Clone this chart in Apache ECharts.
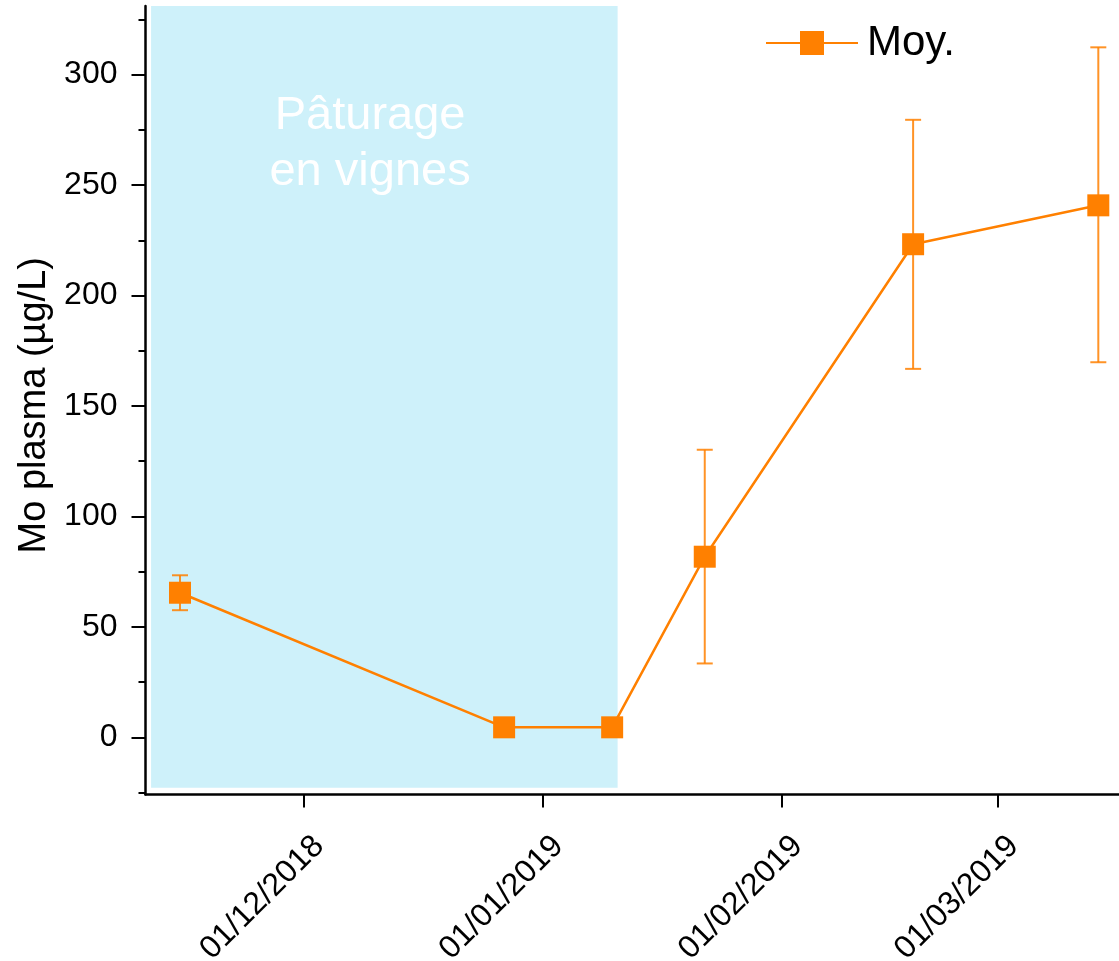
<!DOCTYPE html>
<html><head><meta charset="utf-8">
<script src="https://cdn.jsdelivr.net/npm/echarts@6/dist/echarts.min.js"></script>
<style>html,body{margin:0;padding:0;background:#fff}#c{width:1119px;height:961px}</style>
</head><body><div id="c"></div>
<script>
// ---- data ----
const dates = ['2018-11-15', '2018-12-27', '2019-01-10', '2019-01-22', '2019-02-18', '2019-03-14'];
const means = [65.5, 4.6, 4.6, 81.8, 223.2, 240.8];
const errHigh = [73.4, null, null, 130.2, 279.5, 312.3];
const errLow = [57.6, null, null, 33.5, 166.8, 169.8];
const monthTicks = ['2018-12-01', '2019-01-01', '2019-02-01', '2019-03-01'];
const yMajorTicks = [0, 50, 100, 150, 200, 250, 300];
const yMinorTicks = [-25, 25, 75, 125, 175, 225, 275, 325];
const xRange = ['2018-11-10T12:40', '2019-03-16T16:20'];
const yRange = [-25.8, 331];
const shadeX = ['2018-11-11T06:00', '2019-01-10T17:00'];
const shadeY = [-22.8, 331];
const shadeLabel = 'Pâturage\nen vignes';
const seriesName = 'Moy.';
const yName = 'Mo plasma (µg/L)';

// ---- helpers ----
const t = s => Date.parse((s.length === 10 ? s + 'T00:00' : s) + ':00Z');
const pad = n => (n < 10 ? '0' : '') + n;
const fmtDate = v => { const d = new Date(v); return pad(d.getUTCDate()) + '/' + pad(d.getUTCMonth() + 1) + '/' + d.getUTCFullYear(); };
const FONT = 'Liberation Sans, Arial, sans-serif';
const ORANGE = '#FF8000';

const chart = echarts.init(document.getElementById('c'), null, { renderer: 'canvas' });
const lineData = dates.map((d, i) => [t(d), means[i]]);
const errData = dates.map((d, i) => errHigh[i] == null ? null : [t(d), errLow[i], errHigh[i]]).filter(Boolean);

const yCommon = {
  type: 'value', min: yRange[0], max: yRange[1], position: 'left',
  splitLine: { show: false }
};

chart.setOption({
  animation: false,
  backgroundColor: '#fff',
  grid: { left: 145.5, right: 0, top: 6, bottom: 166.5, containLabel: false, outerBoundsMode: 'none' },
  legend: {
    data: [seriesName], left: 765, top: 22, padding: 0, itemWidth: 92, itemHeight: 30,
    textStyle: { fontFamily: FONT, fontSize: 42, color: '#000', padding: [0, 0, 0, 4] }
  },
  xAxis: {
    type: 'value', min: t(xRange[0]), max: t(xRange[1]),
    splitLine: { show: false },
    axisLine: { onZero: false, lineStyle: { color: '#000', width: 2.5 } },
    axisTick: { show: true, length: 13, lineStyle: { color: '#000', width: 2 }, customValues: monthTicks.map(t) },
    axisLabel: {
      customValues: monthTicks.map(t), formatter: fmtDate, rotate: 45,
      fontFamily: FONT, fontSize: 32, color: '#000', margin: 31, verticalAlign: 'top', padding: [6, 0, 0, 0]
    }
  },
  yAxis: [
    Object.assign({}, yCommon, {
      name: yName, nameLocation: 'middle', nameGap: 85, nameRotate: 90,
      nameTextStyle: { fontFamily: FONT, fontSize: 38, color: '#000', padding: [0, 10, 0, 0] },
      axisLine: { show: true, onZero: false, lineStyle: { color: '#000', width: 2.5 } },
      axisTick: { show: true, length: 14, lineStyle: { color: '#000', width: 2 }, customValues: yMajorTicks },
      axisLabel: { customValues: yMajorTicks, fontFamily: FONT, fontSize: 32, color: '#000', margin: 28 }
    }),
    Object.assign({}, yCommon, {
      axisLine: { show: false, onZero: false },
      axisTick: { show: true, length: 7, lineStyle: { color: '#000', width: 2 }, customValues: yMinorTicks },
      axisLabel: { show: false }
    })
  ],
  series: [
    {
      name: 'shade', type: 'line', data: [], z: 0, silent: true,
      markArea: {
        silent: true,
        itemStyle: { color: '#CEF1FA' },
        label: {
          show: true, position: [219, 82], align: 'center', verticalAlign: 'top',
          color: '#fff', fontFamily: FONT, fontSize: 47, lineHeight: 56
        },
        data: [[{ xAxis: t(shadeX[0]), yAxis: shadeY[0], name: shadeLabel }, { xAxis: t(shadeX[1]), yAxis: shadeY[1] }]]
      }
    },
    {
      name: 'err', type: 'custom', z: 3, silent: true,
      encode: { x: 0, y: [1, 2] },
      data: errData,
      renderItem(params, api) {
        const x = api.value(0);
        const lo = api.coord([x, api.value(1)]);
        const hi = api.coord([x, api.value(2)]);
        const w = 8;
        const style = { stroke: ORANGE, lineWidth: 2, opacity: 0.85 };
        return {
          type: 'group', children: [
            { type: 'line', shape: { x1: lo[0], y1: lo[1], x2: hi[0], y2: hi[1] }, style },
            { type: 'line', shape: { x1: hi[0] - w, y1: hi[1], x2: hi[0] + w, y2: hi[1] }, style },
            { type: 'line', shape: { x1: lo[0] - w, y1: lo[1], x2: lo[0] + w, y2: lo[1] }, style }
          ]
        };
      }
    },
    {
      name: seriesName, type: 'line', z: 4, data: lineData,
      symbol: 'rect', symbolSize: 22, showSymbol: true,
      itemStyle: { color: ORANGE },
      lineStyle: { color: ORANGE, width: 2.5 }
    }
  ]
});
</script>
</body></html>
